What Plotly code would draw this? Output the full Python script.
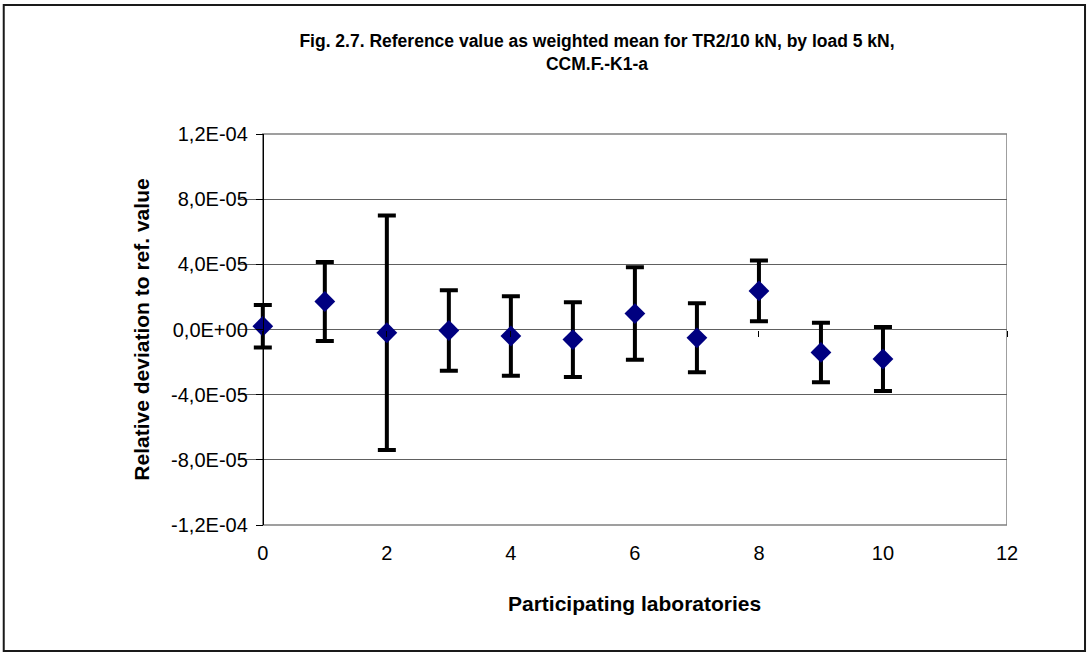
import plotly.graph_objects as go

# ---- data ----
labs = [0, 1, 2, 3, 4, 5, 6, 7, 8, 9, 10]
rel_dev = [2.0e-6, 17.2e-6, -2.0e-6, -0.6e-6, -4.0e-6, -6.2e-6, 9.8e-6, -5.1e-6, 23.7e-6, -14.1e-6, -18.1e-6]
uncert = [13.0e-6, 24.3e-6, 72.0e-6, 24.7e-6, 24.4e-6, 23.0e-6, 28.4e-6, 21.2e-6, 18.7e-6, 18.3e-6, 19.7e-6]

y_tickvals = [-1.2e-4, -8e-5, -4e-5, 0, 4e-5, 8e-5, 1.2e-4]
y_ticktext = ["-1,2E-04", "-8,0E-05", "-4,0E-05", "0,0E+00", "4,0E-05", "8,0E-05", "1,2E-04"]
x_tickvals = [0, 2, 4, 6, 8, 10, 12]
x_min, x_max = 0, 12
pad = 0.4  # extra room left of x=0 so the first error-bar cap is not clipped

title_text = "Fig. 2.7. Reference value as weighted mean for TR2/10 kN, by load 5 kN,<br>CCM.F.-K1-a"
x_title = "Participating laboratories"
y_title = "Relative deviation to ref. value"

FONT = "Liberation Sans, Arial, sans-serif"
W, H = 1087, 653
ax_left, R, T, B = 263, 80, 134, 128
px_per_unit = (W - R - ax_left) / (x_max - x_min)
L = ax_left - pad * px_per_unit
pw, ph = W - L - R, H - T - B
y_pos = (ax_left - L) / pw

fig = go.Figure()
fig.add_trace(go.Scatter(
    x=labs, y=rel_dev, mode="markers", cliponaxis=False,
    marker=dict(symbol="diamond", size=16, color="#000080", line=dict(width=0)),
    error_y=dict(type="data", array=uncert, visible=True, color="black", thickness=4, width=9),
    showlegend=False,
))
# helper trace for the x-axis tick marks that sit on the zero line
fig.add_trace(go.Scatter(x=labs, y=rel_dev, xaxis="x2", mode="none",
                         showlegend=False, hoverinfo="skip"))

fig.update_layout(
    width=W, height=H,
    margin=dict(l=L, r=R, t=T, b=B),
    paper_bgcolor="white", plot_bgcolor="white",
    font=dict(family=FONT, size=20, color="black"),
    title=dict(text=title_text, x=597 / W, xref="container", xanchor="center",
               y=1 - 47 / H, yref="container", yanchor="middle",
               font=dict(family=FONT, size=17.5, color="black", weight="bold")),
    xaxis=dict(range=[x_min - pad, x_max], tickvals=x_tickvals, showgrid=False, zeroline=False,
               showline=False, ticks="", ticklabelstandoff=14,
               tickfont=dict(size=20)),
    xaxis2=dict(range=[x_min - pad, x_max], tickvals=x_tickvals, overlaying="x", anchor="free",
                position=0.5, side="bottom", showgrid=False, zeroline=False,
                showline=False, ticks="outside", ticklen=6, tickcolor="black",
                tickwidth=1, showticklabels=False),
    yaxis=dict(range=[-1.2e-4, 1.2e-4], tickvals=y_tickvals, ticktext=y_ticktext,
               anchor="free", position=y_pos,
               showgrid=True, gridcolor="#606060", gridwidth=1, zeroline=False,
               showline=True, linecolor="black", linewidth=1,
               ticks="outside", ticklen=7, tickcolor="black", tickwidth=1,
               ticklabelstandoff=4, tickfont=dict(size=20),
               title=dict(text=y_title, standoff=14,
                          font=dict(size=21, weight="bold"))),
    annotations=[
        dict(text="<b>" + x_title + "</b>", xref="x", x=(x_min + x_max) / 2,
             yref="paper", y=(H - B - 603) / ph, xanchor="center", yanchor="middle",
             showarrow=False, font=dict(family=FONT, size=21, color="black")),
    ],
    shapes=[
        # hide grid lines left of the value axis
        dict(type="rect", xref="x", yref="paper", x0=x_min - pad, x1=x_min, y0=-0.01, y1=1.01,
             line=dict(width=0), fillcolor="white", layer="between"),
        # plot-area border (grey)
        dict(type="rect", xref="x", yref="paper", x0=x_min, x1=x_max, y0=0, y1=1,
             line=dict(color="#808080", width=1.5), layer="between"),
        # chart-area border
        dict(type="rect", xref="paper", yref="paper",
             x0=(4 - L) / pw, x1=(1085 - L) / pw,
             y0=(H - B - 651) / ph, y1=(H - B - 5) / ph,
             line=dict(color="#1a1a1a", width=2), layer="below"),
    ],
)

fig.write_html("out.html")
